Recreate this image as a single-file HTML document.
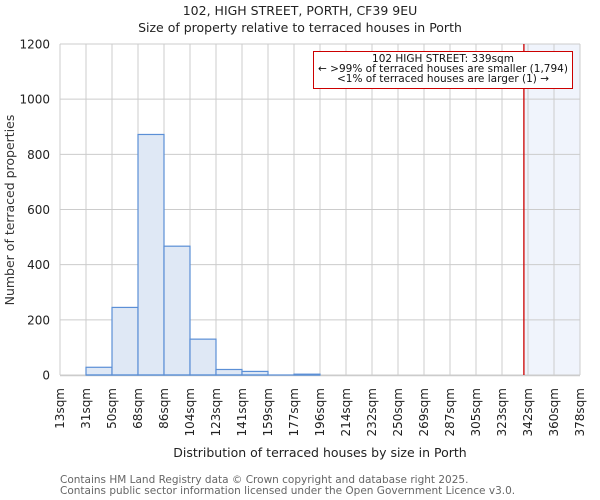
<!DOCTYPE html>
<html><head><meta charset="utf-8"><style>
body{margin:0;background:#fff;}
svg{display:block;font-family:"DejaVu Sans","Liberation Sans",sans-serif;}
</style></head><body>
<svg id="chart" width="600" height="500">
<text x="300" y="15" text-anchor="middle" font-size="12.5" fill="#222">102, HIGH STREET, PORTH, CF39 9EU</text>
<text x="300" y="32" text-anchor="middle" font-size="12.5" fill="#222">Size of property relative to terraced houses in Porth</text>
<rect x="60" y="44" width="520" height="331" fill="#fff"/>
<g id="shade"></g>
<g id="grid"></g>
<g id="bars"></g>
<g id="xticks"></g>
<g id="yticks"></g>
<g id="marker"></g>
<text x="14" y="210" text-anchor="middle" font-size="12.5" fill="#333" transform="rotate(-90 14 210)">Number of terraced properties</text>
<text x="320" y="457" text-anchor="middle" font-size="12.5" fill="#222">Distribution of terraced houses by size in Porth</text>
<text x="60" y="483" font-size="10.5" fill="#666">Contains HM Land Registry data © Crown copyright and database right 2025.</text>
<text x="60" y="494" font-size="10.5" fill="#666">Contains public sector information licensed under the Open Government Licence v3.0.</text>
<g>
<rect x="313.5" y="51.5" width="259" height="37" fill="#fff" stroke="#cc0000" stroke-width="1"/>
<text x="443" y="62" text-anchor="middle" font-size="10.5" fill="#111">102 HIGH STREET: 339sqm</text>
<text x="443" y="72" text-anchor="middle" font-size="10.5" fill="#111">← &gt;99% of terraced houses are smaller (1,794)</text>
<text x="443" y="82" text-anchor="middle" font-size="10.5" fill="#111">&lt;1% of terraced houses are larger (1) →</text>
</g>
</svg>
<script>
const binLabels = ["13sqm","31sqm","50sqm","68sqm","86sqm","104sqm","123sqm","141sqm","159sqm","177sqm","196sqm","214sqm","232sqm","250sqm","269sqm","287sqm","305sqm","323sqm","342sqm","360sqm","378sqm"];
const binEdges = [13,31,50,68,86,104,123,141,159,177,196,214,232,250,269,287,305,323,342,360,378];
const counts = [0,28,245,872,467,130,20,13,0,3,0,0,0,0,0,0,0,0,0,0];
const yTicks = [0,200,400,600,800,1000,1200];
const propertySize = [339];

const NS="http://www.w3.org/2000/svg";
const L=60,R=580,T=44,B=375,yMax=1200;
const nb=binLabels.length-1;
const bw=(R-L)/nb;
function xIdx(i){return L+i*bw;}
function xVal(v){
  for(let i=0;i<binEdges.length-1;i++){
    if(v<=binEdges[i+1]) return xIdx(i)+(v-binEdges[i])/(binEdges[i+1]-binEdges[i])*bw;
  }
  return R;
}
function y(v){return B-v/yMax*(B-T);}
function mk(tag,attrs,parent){const e=document.createElementNS(NS,tag);for(const k in attrs)e.setAttribute(k,attrs[k]);document.getElementById(parent).appendChild(e);return e;}

const px=xVal(propertySize[0]);
const sh=mk('rect',{x:px,y:T,width:R-px,height:B-T,fill:'#f0f4fc'},'shade');



for(let i=0;i<=nb;i++){
  const g=mk('line',{x1:xIdx(i),x2:xIdx(i),y1:T,y2:B,stroke:'#cccccc','stroke-width':1},'grid');
  
  
  const t=mk('text',{x:0,y:0,'text-anchor':'end','font-size':12,fill:'#222',transform:`translate(${xIdx(i)+4},388) rotate(-90)`},'xticks');
  t.textContent=binLabels[i];
  
  
}
yTicks.forEach(v=>{
  const g=mk('line',{x1:L,x2:R,y1:y(v),y2:y(v),stroke:'#cccccc','stroke-width':1},'grid');
  
  
  const t=mk('text',{x:50,y:y(v)+4.5,'text-anchor':'end','font-size':12,fill:'#222'},'yticks');
  t.textContent=v;
  
  
});
counts.forEach((c,i)=>{
  if(c<=0)return;
  const b=mk('rect',{x:xIdx(i),y:y(c),width:bw,height:B-y(c),fill:'#dfe8f5',stroke:'#5b8fd6','stroke-width':1.2},'bars');
  
  
});
const base=mk('line',{x1:xIdx(1),x2:xIdx(10),y1:B,y2:B,stroke:'#5b8fd6','stroke-width':1.2},'bars');


const ax=mk('line',{x1:L,x2:R,y1:B+0.5,y2:B+0.5,stroke:'#cccccc','stroke-width':1.5},'grid');


const m=mk('line',{x1:px,x2:px,y1:T,y2:B,stroke:'#cc0000','stroke-width':1.3},'marker');


</script>
</body></html>
